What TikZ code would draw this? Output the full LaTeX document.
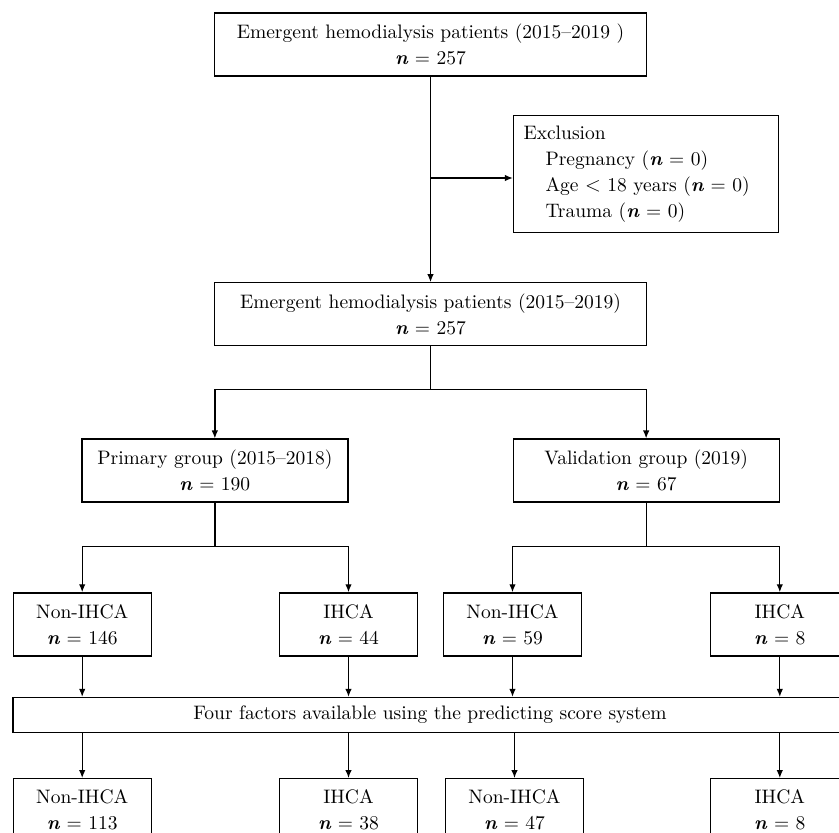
\documentclass[tikz,border=0pt]{standalone}
\usepackage{fontspec}
\setmainfont{lmroman10-regular.otf}[BoldFont=lmroman10-bold.otf,ItalicFont=lmroman10-italic.otf,BoldItalicFont=lmroman10-bolditalic.otf]
\usepackage{tikz}
\usetikzlibrary{arrows.meta,positioning}
\newcommand{\nbold}{\textbf{\textit{n}}}

\begin{document}
\begin{tikzpicture}[
  x=1pt,y=-1pt,
  box/.style={draw,line width=1.3pt,minimum height=63pt,align=center,inner sep=4pt,font=\fontsize{19.5}{26}\selectfont},
  wide/.style={box,minimum width=432pt},
  mid/.style={box,minimum width=266pt},
  small/.style={box,minimum width=138pt},
  exclbox/.style={draw,line width=1.3pt,text width=245pt,inner sep=10pt,align=left,font=\fontsize{19.5}{26}\selectfont},
  bar/.style={draw,line width=1.3pt,minimum width=834pt,minimum height=35pt,font=\fontsize{19.5}{26}\selectfont},
  arrow/.style={-{Latex[length=8pt,width=6.5pt]},line width=1.3pt}
]
\useasboundingbox (0,0) rectangle (839,833);
\clip (0,0) rectangle (839,833);
\node[wide] (top) at (430.5,44.5) {Emergent hemodialysis patients (2015--2019 )\\\nbold{} = 257};
\node[exclbox] (excl) at (646,174) {Exclusion\\\hspace*{22pt}Pregnancy (\nbold{} = 0)\\\hspace*{22pt}Age $<$ 18 years (\nbold{} = 0)\\\hspace*{22pt}Trauma (\nbold{} = 0)};
\node[wide,below=205.5pt of top] (pool) {Emergent hemodialysis patients (2015--2019)\\\nbold{} = 257};
\node[mid,below=92pt of pool.south west,xshift=1pt] (primary) {Primary group (2015--2018)\\\nbold{} = 190};
\node[mid,below=92pt of pool.south east,xshift=-1pt] (valid) {Validation group (2019)\\\nbold{} = 67};
\node[small,below=89.5pt of primary.south west,xshift=1pt] (pnon) {Non-IHCA\\\nbold{} = 146};
\node[small,below=89.5pt of primary.south east] (pihca) {IHCA\\\nbold{} = 44};
\node[small,below=89.5pt of valid.south west] (vnon) {Non-IHCA\\\nbold{} = 59};
\node[small,below=89.5pt of valid.south east] (vihca) {IHCA\\\nbold{} = 8};
\node[bar] (four) at (430,715) {Four factors available using the predicting score system};
\node[small,below=121.5pt of pnon] (pnonscore) {Non-IHCA\\\nbold{} = 113};
\node[small,below=121.5pt of pihca] (pihcascore) {IHCA\\\nbold{} = 38};
\node[small,below=121.5pt of vnon,xshift=2pt] (vnonscore) {Non-IHCA\\\nbold{} = 47};
\node[small,below=121.5pt of vihca] (vihcascore) {IHCA\\\nbold{} = 8};
\coordinate[yshift=-4pt] (excljoin) at (top.south |- excl.west);
\draw[arrow] (top) -- (pool);
\draw[arrow] (excljoin) -- (excljoin -| excl.west);
\draw[arrow] (pool.south) -- ++(0,43) -| (primary.north);
\draw[arrow] (pool.south) -- ++(0,43) -| (valid.north);
\draw[arrow] (primary.south) -- ++(0,44) -| (pnon.north);
\draw[arrow] (primary.south) -- ++(0,44) -| (pihca.north);
\draw[arrow] (valid.south) -- ++(0,44) -| (vnon.north);
\draw[arrow] (valid.south) -- ++(0,44) -| (vihca.north);
\draw[arrow] (pnon.south) -- (pnon.south |- four.north);
\draw[arrow] (pihca.south) -- (pihca.south |- four.north);
\draw[arrow] (vnon.south) -- (vnon.south |- four.north);
\draw[arrow] (vihca.south) -- (vihca.south |- four.north);
\draw[arrow] (pnonscore.north |- four.south) -- (pnonscore.north);
\draw[arrow] (pihcascore.north |- four.south) -- (pihcascore.north);
\draw[arrow] (vnonscore.north |- four.south) -- (vnonscore.north);
\draw[arrow] (vihcascore.north |- four.south) -- (vihcascore.north);
\end{tikzpicture}
\end{document}
